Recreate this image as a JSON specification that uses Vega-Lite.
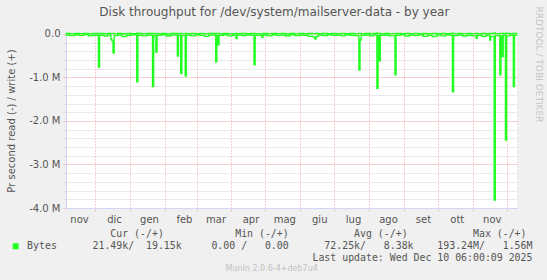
{
  "$schema": "https://vega.github.io/schema/vega-lite/v6.json",
  "width": 451,
  "height": 175,
  "autosize": "none",
  "padding": {"left": 66, "top": 33, "right": 30, "bottom": 72},
  "background": "#f0f0f0",
  "title": {
    "text": "Disk throughput for /dev/system/mailserver-data - by year",
    "anchor": "middle",
    "frame": "bounds",
    "font": "DejaVu Sans",
    "fontSize": 12,
    "fontWeight": "normal",
    "color": "#555555",
    "offset": 0,
    "dy": 13
  },
  "data": {
    "values": [
      {"date": "2024-11-05", "read": -25000, "write": 8000},
      {"date": "2024-11-09", "read": -40000, "write": 5000},
      {"date": "2024-11-13", "read": -20000, "write": 10000},
      {"date": "2024-11-17", "read": -35000, "write": 6000},
      {"date": "2024-11-21", "read": -15000, "write": 9000},
      {"date": "2024-11-25", "read": -45000, "write": 4000},
      {"date": "2024-11-29", "read": -30000, "write": 8000},
      {"date": "2024-12-04", "read": -760000, "write": 12000},
      {"date": "2024-12-05", "read": -30000, "write": 7000},
      {"date": "2024-12-09", "read": -50000, "write": 5000},
      {"date": "2024-12-12", "read": -25000, "write": 8000},
      {"date": "2024-12-15", "read": -120000, "write": 6000},
      {"date": "2024-12-16", "read": -160000, "write": 6000},
      {"date": "2024-12-17", "read": -440000, "write": 9000},
      {"date": "2024-12-18", "read": -40000, "write": 5000},
      {"date": "2024-12-21", "read": -20000, "write": 7000},
      {"date": "2024-12-25", "read": -60000, "write": 4000},
      {"date": "2024-12-29", "read": -35000, "write": 8000},
      {"date": "2025-01-02", "read": -20000, "write": 6000},
      {"date": "2025-01-07", "read": -1100000, "write": 14000},
      {"date": "2025-01-08", "read": -30000, "write": 7000},
      {"date": "2025-01-12", "read": -45000, "write": 5000},
      {"date": "2025-01-16", "read": -25000, "write": 9000},
      {"date": "2025-01-21", "read": -1210000, "write": 10000},
      {"date": "2025-01-22", "read": -40000, "write": 6000},
      {"date": "2025-01-24", "read": -420000, "write": 8000},
      {"date": "2025-01-25", "read": -30000, "write": 5000},
      {"date": "2025-01-29", "read": -20000, "write": 7000},
      {"date": "2025-02-02", "read": -50000, "write": 4000},
      {"date": "2025-02-06", "read": -25000, "write": 8000},
      {"date": "2025-02-12", "read": -510000, "write": 9000},
      {"date": "2025-02-13", "read": -30000, "write": 6000},
      {"date": "2025-02-15", "read": -910000, "write": 10000},
      {"date": "2025-02-16", "read": -40000, "write": 5000},
      {"date": "2025-02-19", "read": -970000, "write": 12000},
      {"date": "2025-02-20", "read": -25000, "write": 6000},
      {"date": "2025-02-24", "read": -45000, "write": 8000},
      {"date": "2025-02-28", "read": -20000, "write": 5000},
      {"date": "2025-03-04", "read": -35000, "write": 7000},
      {"date": "2025-03-08", "read": -55000, "write": 6000},
      {"date": "2025-03-12", "read": -25000, "write": 9000},
      {"date": "2025-03-18", "read": -640000, "write": 11000},
      {"date": "2025-03-19", "read": -40000, "write": 6000},
      {"date": "2025-03-20", "read": -250000, "write": 7000},
      {"date": "2025-03-21", "read": -30000, "write": 5000},
      {"date": "2025-03-25", "read": -20000, "write": 8000},
      {"date": "2025-03-29", "read": -45000, "write": 6000},
      {"date": "2025-04-02", "read": -30000, "write": 4000},
      {"date": "2025-04-05", "read": -110000, "write": 7000},
      {"date": "2025-04-06", "read": -25000, "write": 6000},
      {"date": "2025-04-10", "read": -40000, "write": 8000},
      {"date": "2025-04-14", "read": -20000, "write": 5000},
      {"date": "2025-04-18", "read": -35000, "write": 9000},
      {"date": "2025-04-21", "read": -710000, "write": 10000},
      {"date": "2025-04-22", "read": -30000, "write": 6000},
      {"date": "2025-04-28", "read": -80000, "write": 5000},
      {"date": "2025-04-29", "read": -25000, "write": 7000},
      {"date": "2025-05-03", "read": -45000, "write": 6000},
      {"date": "2025-05-07", "read": -20000, "write": 8000},
      {"date": "2025-05-11", "read": -35000, "write": 5000},
      {"date": "2025-05-15", "read": -25000, "write": 7000},
      {"date": "2025-05-19", "read": -50000, "write": 4000},
      {"date": "2025-05-23", "read": -20000, "write": 9000},
      {"date": "2025-05-27", "read": -40000, "write": 6000},
      {"date": "2025-05-31", "read": -25000, "write": 8000},
      {"date": "2025-06-04", "read": -30000, "write": 5000},
      {"date": "2025-06-08", "read": -55000, "write": 7000},
      {"date": "2025-06-12", "read": -70000, "write": 6000},
      {"date": "2025-06-14", "read": -120000, "write": 5000},
      {"date": "2025-06-15", "read": -60000, "write": 8000},
      {"date": "2025-06-17", "read": -25000, "write": 6000},
      {"date": "2025-06-21", "read": -40000, "write": 9000},
      {"date": "2025-06-25", "read": -20000, "write": 5000},
      {"date": "2025-06-29", "read": -35000, "write": 7000},
      {"date": "2025-07-03", "read": -25000, "write": 6000},
      {"date": "2025-07-07", "read": -45000, "write": 8000},
      {"date": "2025-07-11", "read": -20000, "write": 5000},
      {"date": "2025-07-15", "read": -30000, "write": 7000},
      {"date": "2025-07-19", "read": -40000, "write": 6000},
      {"date": "2025-07-23", "read": -830000, "write": 12000},
      {"date": "2025-07-24", "read": -140000, "write": 7000},
      {"date": "2025-07-25", "read": -30000, "write": 6000},
      {"date": "2025-07-29", "read": -25000, "write": 8000},
      {"date": "2025-08-02", "read": -45000, "write": 5000},
      {"date": "2025-08-05", "read": -20000, "write": 7000},
      {"date": "2025-08-08", "read": -1250000, "write": 14000},
      {"date": "2025-08-09", "read": -40000, "write": 6000},
      {"date": "2025-08-10", "read": -620000, "write": 9000},
      {"date": "2025-08-11", "read": -30000, "write": 5000},
      {"date": "2025-08-15", "read": -25000, "write": 8000},
      {"date": "2025-08-19", "read": -45000, "write": 6000},
      {"date": "2025-08-24", "read": -940000, "write": 11000},
      {"date": "2025-08-25", "read": -30000, "write": 7000},
      {"date": "2025-08-29", "read": -20000, "write": 5000},
      {"date": "2025-09-02", "read": -50000, "write": 8000},
      {"date": "2025-09-06", "read": -25000, "write": 6000},
      {"date": "2025-09-10", "read": -40000, "write": 9000},
      {"date": "2025-09-14", "read": -20000, "write": 5000},
      {"date": "2025-09-18", "read": -55000, "write": 7000},
      {"date": "2025-09-22", "read": -30000, "write": 6000},
      {"date": "2025-09-26", "read": -60000, "write": 8000},
      {"date": "2025-09-30", "read": -25000, "write": 5000},
      {"date": "2025-10-04", "read": -45000, "write": 7000},
      {"date": "2025-10-08", "read": -20000, "write": 6000},
      {"date": "2025-10-12", "read": -35000, "write": 9000},
      {"date": "2025-10-14", "read": -1330000, "write": 15000},
      {"date": "2025-10-15", "read": -40000, "write": 6000},
      {"date": "2025-10-19", "read": -25000, "write": 8000},
      {"date": "2025-10-23", "read": -50000, "write": 5000},
      {"date": "2025-10-27", "read": -30000, "write": 7000},
      {"date": "2025-10-31", "read": -45000, "write": 6000},
      {"date": "2025-11-04", "read": -100000, "write": 8000},
      {"date": "2025-11-05", "read": -30000, "write": 5000},
      {"date": "2025-11-09", "read": -55000, "write": 9000},
      {"date": "2025-11-13", "read": -25000, "write": 6000},
      {"date": "2025-11-16", "read": -140000, "write": 8000},
      {"date": "2025-11-17", "read": -60000, "write": 7000},
      {"date": "2025-11-20", "read": -3820000, "write": 20000},
      {"date": "2025-11-21", "read": -40000, "write": 6000},
      {"date": "2025-11-25", "read": -940000, "write": 12000},
      {"date": "2025-11-26", "read": -50000, "write": 7000},
      {"date": "2025-11-27", "read": -520000, "write": 9000},
      {"date": "2025-11-28", "read": -30000, "write": 6000},
      {"date": "2025-11-30", "read": -2440000, "write": 18000},
      {"date": "2025-12-01", "read": -45000, "write": 8000},
      {"date": "2025-12-04", "read": -25000, "write": 6000},
      {"date": "2025-12-07", "read": -1210000, "write": 12000},
      {"date": "2025-12-08", "read": -30000, "write": 7000},
      {"date": "2025-12-10", "read": -21490, "write": 19150}
    ]
  },
  "encoding": {
    "x": {
      "field": "date",
      "type": "temporal",
      "scale": {
        "type": "utc",
        "domain": [
          {"year": 2024, "month": 11, "date": 5, "hours": 6, "utc": true},
          {"year": 2025, "month": 12, "date": 10, "hours": 6, "utc": true}
        ]
      },
      "axis": {
        "title": null,
        "values": [
          {"year": 2024, "month": 11, "date": 5, "hours": 6, "utc": true},
          {"year": 2024, "month": 12, "date": 1, "utc": true},
          {"year": 2025, "month": 1, "date": 1, "utc": true},
          {"year": 2025, "month": 2, "date": 1, "utc": true},
          {"year": 2025, "month": 3, "date": 1, "utc": true},
          {"year": 2025, "month": 4, "date": 1, "utc": true},
          {"year": 2025, "month": 5, "date": 1, "utc": true},
          {"year": 2025, "month": 6, "date": 1, "utc": true},
          {"year": 2025, "month": 7, "date": 1, "utc": true},
          {"year": 2025, "month": 8, "date": 1, "utc": true},
          {"year": 2025, "month": 9, "date": 1, "utc": true},
          {"year": 2025, "month": 10, "date": 1, "utc": true},
          {"year": 2025, "month": 11, "date": 1, "utc": true},
          {"year": 2025, "month": 12, "date": 1, "utc": true}
        ],
        "labelExpr": "(utcyear(datum.value) == 2025 && utcmonth(datum.value) == 11) ? '' : ['gen','feb','mar','apr','mag','giu','lug','ago','set','ott','nov','dic'][utcmonth(datum.value)]",
        "labelOffset": {"condition": {"test": "utcdate(datum.value) != 1", "value": 13}, "value": 19},
        "labelAlign": "center",
        "labelFlush": false,
        "labelOverlap": false,
        "labelFontSize": 10,
        "labelColor": "#555555",
        "labelPadding": 3,
        "grid": true,
        "gridColor": {"condition": {"test": "utcdate(datum.value) != 1", "value": "transparent"}, "value": "#eba0a0"},
        "gridDash": [1, 2],
        "ticks": true,
        "tickSize": 3,
        "tickDash": [1, 1],
        "tickColor": {"condition": {"test": "utcdate(datum.value) != 1", "value": "transparent"}, "value": "#eba0a0"},
        "domainColor": "#cfd6f8"
      }
    }
  },
  "layer": [
    {
      "mark": {"type": "line", "interpolate": "step-after", "strokeWidth": 1.4},
      "encoding": {
        "y": {
          "field": "read",
          "type": "quantitative",
          "scale": {"domain": [-4000000, 20000], "nice": false, "zero": false},
          "axis": {
            "title": "Pr second read (-) / write (+)",
            "titleFontSize": 10,
            "titleFontWeight": "normal",
            "titleColor": "#555555",
            "titlePadding": 12,
            "values": [-4000000, -3800000, -3600000, -3400000, -3200000, -3000000, -2800000, -2600000, -2400000, -2200000, -2000000, -1800000, -1600000, -1400000, -1200000, -1000000, -800000, -600000, -400000, -200000, 0],
            "labelExpr": "datum.value % 1000000 == 0 ? (datum.value == 0 ? '0.0' : '-' + format(abs(datum.value) / 1000000, '.1f') + ' M') : ''",
            "labelFontSize": 10,
            "labelColor": "#555555",
            "labelPadding": 3,
            "labelOverlap": false,
            "labelFlush": false,
            "grid": true,
            "gridColor": {"condition": {"test": "datum.value % 1000000 == 0", "value": "#eba0a0"}, "value": "#d4d4d4"},
            "gridDash": [1, 1],
            "ticks": true,
            "tickSize": 3,
            "tickDash": [1, 1],
            "tickColor": {"condition": {"test": "datum.value % 1000000 == 0", "value": "#eba0a0"}, "value": "#d4d4d4"},
            "domainColor": "#cfd6f8"
          }
        },
        "color": {
          "datum": "Bytes",
          "type": "nominal",
          "scale": {"domain": ["hdr", "Bytes", "upd"], "range": ["transparent", "#22ff22", "transparent"]},
          "legend": {
            "orient": "none",
            "legendX": -55.3,
            "legendY": 196,
            "direction": "vertical",
            "padding": 0,
            "symbolType": "square",
            "symbolSize": 9,
            "symbolStrokeWidth": 3,
            "clipHeight": 10,
            "labelFont": "DejaVu Sans Mono",
            "labelFontSize": 9.9,
            "labelColor": "#555555",
            "labelOffset": 6.5,
            "labelLimit": 0,
            "rowPadding": 2.2,
            "labelExpr": "datum.label == 'hdr' ? '\u200b\u00a0\u00a0\u00a0\u00a0\u00a0\u00a0\u00a0\u00a0\u00a0\u00a0\u00a0\u00a0\u00a0\u00a0Cur (-/+)\u00a0\u00a0\u00a0\u00a0\u00a0\u00a0\u00a0\u00a0\u00a0\u00a0\u00a0\u00a0Min (-/+)\u00a0\u00a0\u00a0\u00a0\u00a0\u00a0\u00a0\u00a0\u00a0\u00a0\u00a0Avg (-/+)\u00a0\u00a0\u00a0\u00a0\u00a0\u00a0\u00a0\u00a0\u00a0\u00a0\u00a0Max (-/+)' : datum.label == 'Bytes' ? 'Bytes\u00a0\u00a0\u00a0\u00a0\u00a0\u00a021.49k/\u00a0\u00a019.15k\u00a0\u00a0\u00a0\u00a0\u00a00.00 /\u00a0\u00a0\u00a00.00\u00a0\u00a0\u00a0\u00a0\u00a0\u00a072.25k/\u00a0\u00a0\u00a08.38k\u00a0\u00a0\u00a0\u00a0193.24M/\u00a0\u00a0\u00a01.56M' : '\u200b\u00a0\u00a0\u00a0\u00a0\u00a0\u00a0\u00a0\u00a0\u00a0\u00a0\u00a0\u00a0\u00a0\u00a0\u00a0\u00a0\u00a0\u00a0\u00a0\u00a0\u00a0\u00a0\u00a0\u00a0\u00a0\u00a0\u00a0\u00a0\u00a0\u00a0\u00a0\u00a0\u00a0\u00a0\u00a0\u00a0\u00a0\u00a0\u00a0\u00a0\u00a0\u00a0\u00a0\u00a0\u00a0\u00a0\u00a0\u00a0Last update: Wed Dec 10 06:00:09 2025'",
            "title": "Munin 2.0.6-4+deb7u4",
            "titleOrient": "bottom",
            "titleAnchor": "middle",
            "titleFont": "DejaVu Sans",
            "titleFontSize": 8,
            "titleFontWeight": "normal",
            "titleColor": "#c0c0c0",
            "titlePadding": 2
          }
        }
      }
    },
    {
      "mark": {"type": "line", "interpolate": "step-after", "strokeWidth": 1.4},
      "encoding": {
        "y": {
          "field": "write",
          "type": "quantitative",
          "scale": {"domain": [-4000000, 20000], "nice": false, "zero": false},
          "axis": {
            "orient": "right",
            "title": "RRDTOOL / TOBI OETIKER",
            "labels": false,
            "ticks": false,
            "domain": false,
            "grid": false,
            "titleAngle": 90,
            "titleX": 21,
            "titleY": -27,
            "titleAlign": "left",
            "titleBaseline": "middle",
            "titleFontSize": 9,
            "titleFontWeight": "normal",
            "titleColor": "#c4c4c4"
          }
        },
        "color": {"datum": "Bytes", "type": "nominal"}
      }
    }
  ],
  "resolve": {"axis": {"y": "independent"}},
  "config": {
    "font": "DejaVu Sans",
    "view": {"fill": "#ffffff", "stroke": null}
  }
}
